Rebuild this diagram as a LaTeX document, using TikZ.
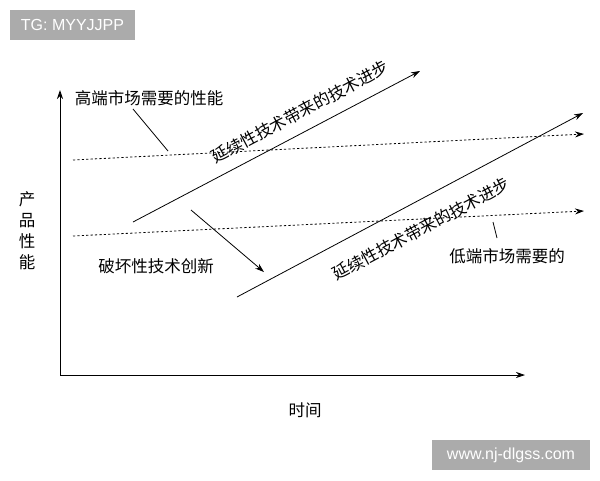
\documentclass[tikz,border=0pt]{standalone}
\usepackage{fontspec}
\newfontfamily\cjk{Noto Sans CJK SC}[BoldFont={Noto Sans CJK SC}]
\newfontfamily\wmfont{Liberation Sans}
\usetikzlibrary{arrows.meta}

\newcommand{\axisLeft}{60}
\newcommand{\axisBottom}{375}
\newcommand{\slopeAngle}{28}

\tikzset{
  lbl/.style={inner sep=0, font=\cjk\fontsize{16.5}{18}\selectfont},
  wm/.style={fill=black!33, text=white, inner sep=0, font=\wmfont\fontsize{16}{18}\selectfont},
  arr/.style={line width=0.8pt, -{Stealth[length=9pt, width=6pt]}},
  dots/.style={line width=0.8pt, dash pattern=on 2.2pt off 2.2pt, -{Stealth[length=9pt, width=6pt]}},
  lead/.style={line width=0.8pt}
}

\begin{document}
\begin{tikzpicture}[x=1pt, y=-1pt]
    \useasboundingbox (0,0) rectangle (600,480);
    \fill[white] (0,0) rectangle (600,480);

    \node[wm, minimum width=125pt, minimum height=30pt] (wm_top) at (72.5,25) {TG: MYYJJPP};
    \node[wm, minimum width=158pt, minimum height=30pt] (wm_bottom) at (511,455) {www.nj-dlgss.com};

    \coordinate (origin) at (\axisLeft,\axisBottom);
    \coordinate (y_end) at (\axisLeft,90);
    \coordinate (x_end) at (525,\axisBottom);
    \draw[arr] (origin) -- (y_end);
    \draw[arr] (origin) -- (x_end);
    \node[lbl, align=center] (y_text) at (27,231) {产\\[3pt]品\\[3pt]性\\[3pt]能};
    \node[lbl] (x_text) at (305,410) {时间};

    \coordinate (high_start) at (73,160);
    \coordinate (high_end) at (584,134);
    \coordinate (low_start) at (73,236);
    \coordinate (low_end) at (584,211);
    \draw[dots] (high_start) -- (high_end);
    \draw[dots] (low_start) -- (low_end);

    \coordinate (up_start) at (133,222);
    \coordinate (up_end) at (420,71);
    \coordinate (down_start) at (237,297);
    \coordinate (down_end) at (583,113);
    \draw[arr] (up_start) -- (up_end);
    \draw[arr] (down_start) -- (down_end);
    \node[lbl, rotate=\slopeAngle] (up_text) at (300,112) {延续性技术带来的技术进步};
    \node[lbl, rotate=\slopeAngle] (down_text) at (421,229) {延续性技术带来的技术进步};

    \node[lbl] (high_text) at (149,98) {高端市场需要的性能};
    \coordinate (high_tip) at (168,151);
    \draw[lead] (133,109) -- (high_tip);

    \node[lbl] (break_text) at (156,266) {破坏性技术创新};
    \coordinate (break_from) at (191,210);
    \coordinate (break_to) at (264,272);
    \draw[arr] (break_from) -- (break_to);

    \node[lbl] (low_text) at (507,256) {低端市场需要的};
    \coordinate (low_tip) at (493,222);
    \draw[lead] (low_tip) -- (497,238);
  \end{tikzpicture}
\end{document}
